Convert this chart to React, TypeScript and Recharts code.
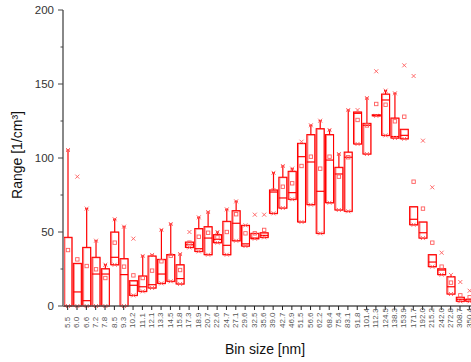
import { ComposedChart, Bar, XAxis, YAxis } from "recharts";

const binSizes = [
  "5.5", "6.0", "6.6", "7.2", "7.8", "8.5", "9.3", "10.2", "11.1", "12.1", "13.3",
  "14.5", "15.8", "17.3", "18.9", "20.7", "22.6", "24.7", "27.1", "29.6", "32.5",
  "35.6", "39.0", "42.7", "46.9", "51.5", "56.6", "62.2", "68.4", "75.4", "83.1",
  "91.8", "101.4", "112.3", "124.5", "138.3", "153.9", "171.7", "192.0", "215.2",
  "242.0", "272.8", "308.7", "350.4",
];

const q1 = [
  0, 0, 0, 0, 0, 27.9, 0, 7.2, 9.9, 12.2, 15.3,
  16.7, 14.9, 39.6, 36.9, 34.7, 42.8, 34.7, 44.1, 40.5, 45.5,
  46.4, 62.6, 66.2, 72.1, 56.8, 68.5, 49.1, 69.8, 64.9, 64,
  109.5, 102.7, 128.5, 115.3, 113.5, 113, 54.9, 45.9, 26.6,
  21.2, 8.1, 3.2, 3.2,
];

const median = [
  0, 9.5, 3.6, 21.6, 21.6, 32.9, 21.2, 14, 13, 14.4, 21.6,
  34.7, 18.5, 41.4, 38.7, 45.9, 45, 41, 55.9, 42, 45.9,
  47.7, 77, 73, 76.6, 100.9, 97.3, 77.5, 98.6, 89.2, 100.5,
  130.2, 122.1, 128.8, 139.2, 114.5, 115.3, 58.6, 49.5, 29.7,
  24.3, 13, 4.5, 4.5,
];

const q3 = [
  46.4, 28.8, 39.6, 32.9, 25.2, 50, 32, 17.1, 20.3, 33.8, 31.5,
  34.7, 27.9, 43.2, 52.3, 53.6, 48.2, 57.2, 64.4, 54.5, 49.1,
  49.5, 78.4, 87, 91, 109.9, 115.8, 119.8, 115.8, 93.7, 104,
  131.1, 123.4, 129.2, 143.2, 127, 119.4, 67.1, 56.8, 34.7,
  25.2, 19.8, 5.9, 4.5,
];

const mean = [
  37.8, 31.5, 27, 24.8, 18.9, 42.8, 26.6, 20.7, 18.9, 23.9, 30.2,
  34, 24.3, 42.8, 46.8, 49.5, 46.4, 50, 62, 49.1, 49.1,
  51.4, 78, 80.6, 82.9, 94.6, 100.9, 92.8, 100.9, 87.4, 100.5,
  125.7, 122, 136.5, 136, 124.8, 127.9, 84, 65.8, 42.8,
  26.6, 15.8, 7.2, 5.9,
];

const whiskerTop = [
  105.4, 28.8, 65.8, 44.1, 27.9, 58.6, 53.6, 17.1, 33.8, 34.5, 51.4,
  55.4, 35.1, 43.2, 59.9, 63.5, 50, 65.3, 70.7, 54.5, 49.1,
  49.5, 90, 94.6, 92.8, 109.9, 122.1, 125.2, 118.9, 102.7, 132.4,
  131.1, 140.5, 129.2, 145.5, 143.7, 119.4, 67.1, 56.8, 34.7,
  25.2, 19.8, 5.9, 4.5,
];

const maxMark = [
  105.4, 87.4, 65.8, 44.1, 27.9, 58.6, 53.6, 45.5, 33.8, 34.5, 51.4,
  55.4, 35.1, 50, 59.9, 63.5, 50, 65.3, 70.7, 54.5, 61.7,
  61.7, 90, 94.6, 92.8, 111, 122.1, 125.2, 118.9, 102.7, 132.4,
  132.4, 140.5, 158.6, 145.5, 143.7, 162.6, 155.4, 111.7, 80.2,
  36, 21, 16.2, 10.3,
];

const yTicks = [0, 25, 50, 75, 100, 125, 150, 175, 200];

const data = binSizes.map((bin, i) => ({
  bin,
  q1: q1[i],
  median: median[i],
  q3: q3[i],
  mean: mean[i],
  hi: whiskerTop[i],
  max: maxMark[i],
}));

const RED = "#ff0000";
const PINK = "#ff8585";
const MARK = "#ff5c5c";
const FONT = "'Liberation Sans', Arial, sans-serif";

const Cross = ({ cx, cy }: { cx: number; cy: number }) => (
  <g stroke={MARK} strokeWidth={0.9}>
    <line x1={cx - 2} y1={cy - 2} x2={cx + 2} y2={cy + 2} />
    <line x1={cx - 2} y1={cy + 2} x2={cx + 2} y2={cy - 2} />
  </g>
);

// eslint-disable-next-line @typescript-eslint/no-explicit-any
const BoxShape = (props: any) => {
  const { x, y, width, height, payload } = props;
  const k = height / payload.max;
  const base = y + height;
  const py = (v: number) => base - v * k;
  const cx = x + width / 2;
  const top = py(payload.q3);
  const bot = py(payload.q1);
  const hasWhisker = payload.hi > payload.q3 + 0.5;
  return (
    <g fill="none">
      {hasWhisker && (
        <>
          <line x1={cx} x2={cx} y1={py(payload.hi)} y2={top} stroke={RED} strokeWidth={1.2} />
          <line x1={cx - 1.5} x2={cx + 1.5} y1={py(payload.hi)} y2={py(payload.hi)} stroke={RED} strokeWidth={1.5} />
        </>
      )}
      <rect x={x + 1} y={top + 0.5} width={width - 1} height={Math.max(bot - top, 1)} stroke={PINK} strokeWidth={1} />
      <rect x={x} y={top} width={width} height={Math.max(bot - top, 1)} stroke={RED} strokeWidth={1.1} />
      <line x1={x} x2={x + width} y1={py(payload.median)} y2={py(payload.median)} stroke={RED} strokeWidth={1.2} />
      <rect x={cx - 1.7} y={py(payload.mean) - 1.7} width={3.4} height={3.4} stroke={MARK} strokeWidth={0.9} />
      <Cross cx={cx} cy={py(payload.max)} />
      <Cross cx={cx} cy={bot} />
    </g>
  );
};

// eslint-disable-next-line @typescript-eslint/no-explicit-any
const XTick = ({ x, y, payload }: any) => (
  <g>
    <line x1={x} x2={x} y1={y} y2={y + 4} stroke="#222" strokeWidth={1} />
    <text
      transform={`translate(${x + 2.3},${y + 22}) rotate(-90)`}
      textAnchor="start"
      fontSize={8}
      fill="#555"
      fontFamily={FONT}
    >
      {payload.value}
    </text>
  </g>
);

// eslint-disable-next-line @typescript-eslint/no-explicit-any
const YTick = ({ x, y, payload }: any) => {
  const major = payload.value % 50 === 0;
  return (
    <g>
      <line x1={x - (major ? 5 : 2.5)} x2={x} y1={y} y2={y} stroke="#444" strokeWidth={1} />
      {major && (
        <text x={x - 9} y={y + 4} textAnchor="end" fontSize={11.5} fill="#333" fontFamily={FONT}>
          {payload.value}
        </text>
      )}
    </g>
  );
};

export default function App() {
  return (
    <div style={{ position: "absolute", left: 0, top: 0, width: 471, height: 362, overflow: "hidden", background: "#fff" }}>
      <ComposedChart width={474} height={362} data={data} margin={{ top: 10, right: 0, bottom: 0, left: 0 }}>
        <XAxis
          dataKey="bin"
          interval={0}
          height={56}
          tickSize={0}
          tickMargin={0}
          tickLine={false}
          tick={<XTick />}
          axisLine={{ stroke: "#555", strokeWidth: 1.5 }}
        />
        <YAxis
          domain={[0, 200]}
          ticks={yTicks}
          width={63}
          tickSize={0}
          tickMargin={0}
          tickLine={false}
          tick={<YTick />}
          axisLine={{ stroke: "#888", strokeWidth: 2 }}
        />
        <Bar dataKey="max" barSize={8} shape={<BoxShape />} isAnimationActive={false} />
        <text x={17} y={155} transform="rotate(-90 17 155)" textAnchor="middle" dominantBaseline="central" fontSize={14} fill="#111" fontFamily={FONT}>
          Range [1/cm³]
        </text>
        <text x={265} y={354} textAnchor="middle" fontSize={14} fill="#111" fontFamily={FONT}>
          Bin size [nm]
        </text>
      </ComposedChart>
    </div>
  );
}
